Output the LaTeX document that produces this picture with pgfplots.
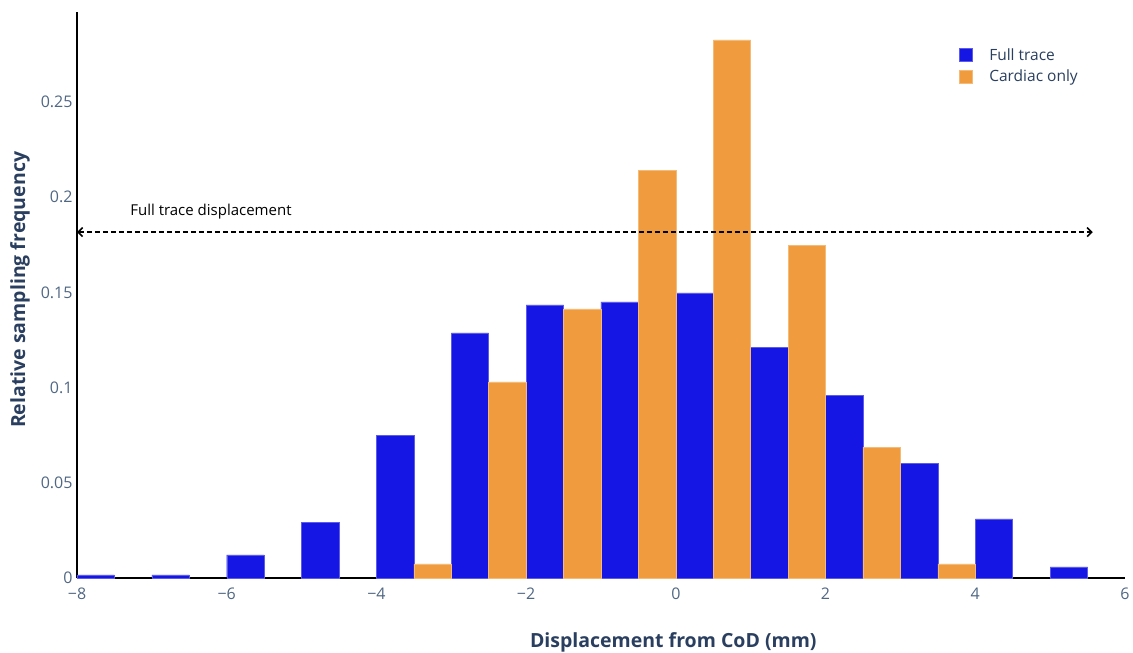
\documentclass[border=0pt]{standalone}
\usepackage{pgfplots}
\pgfplotsset{compat=1.18}
\usepackage{fontspec}
\setmainfont{Open Sans}
\usetikzlibrary{arrows.meta}
\definecolor{fullblue}{RGB}{22,22,228}
\definecolor{cardorange}{RGB}{240,156,62}
\definecolor{tickgrey}{RGB}{80,103,132}
\definecolor{titlenavy}{RGB}{42,63,95}
\begin{document}
\begin{tikzpicture}
\useasboundingbox (-77bp,-75bp) rectangle (1056bp,578bp);
\begin{axis}[
  at={(0,0)}, anchor=south west,
  width=1048bp, height=566bp, scale only axis,
  xmin=-8, xmax=6, ymin=0, ymax=0.2973,
  axis lines=left,
  axis line style={black, line width=1.4bp, -},
  major tick length=0pt,
  xtick={-8,-6,-4,-2,0,2,4,6},
  xticklabels={−8,−6,−4,−2,0,2,4,6},
  ytick={0,0.05,0.1,0.15,0.2,0.25},
  yticklabels={0,0.05,0.1,0.15,0.2,0.25},
  ticklabel style={font=\fontsize{16bp}{18bp}\selectfont, text=tickgrey},
  xticklabel style={yshift=-6bp},
  yticklabel style={xshift=-1bp},
  xlabel={\textbf{Displacement from CoD (mm)}},
  ylabel={\textbf{Relative sampling frequency}},
  label style={font=\fontsize{19.5bp}{22bp}\selectfont, text=titlenavy},
  xlabel style={at={(axis description cs:0.569,0)}, anchor=center, yshift=-64bp},
  ylabel style={at={(axis description cs:-0.0544,0.509)}, anchor=center},
  bar shift=0pt, bar width=0.5,
  legend style={draw=none, fill=none, at={(axis description cs:0.8385,0.943)}, anchor=north west,
    font=\fontsize{15.5bp}{18bp}\selectfont, text=titlenavy, row sep=4bp, column sep=11bp,
    nodes={inner xsep=6bp}},
  legend cell align=left,
  legend image code/.code={\fill[#1] (0bp,-6.5bp) rectangle (13bp,6.5bp);},
  clip=false,
]
\addplot[ybar, fill=fullblue, draw=fullblue!70!white, line width=0.4bp] coordinates {
(-7.75,0.0016) (-6.75,0.0016) (-5.75,0.0121) (-4.75,0.0294) (-3.75,0.0751)
(-2.75,0.1287) (-1.75,0.1434) (-0.75,0.1450) (0.25,0.1497) (1.25,0.1213)
(2.25,0.0961) (3.25,0.0604) (4.25,0.0310) (5.25,0.0058)};
\addlegendentry{Full trace}
\addplot[ybar, fill=cardorange, draw=cardorange!70!white, line width=0.4bp] coordinates {
(-3.25,0.0074) (-2.25,0.1030) (-1.25,0.1413) (-0.25,0.2143) (0.75,0.2826)
(1.75,0.1749) (2.75,0.0688) (3.75,0.0074)};
\addlegendentry{Cardiac only}
\draw[black, line width=1.6bp, dash pattern=on 5bp off 3bp,
  {Straight Barb[length=4.5bp,width=9bp]}-{Straight Barb[length=4.5bp,width=9bp]}]
  (axis cs:-8,0.1817) -- (axis cs:5.57,0.1817);
\node[anchor=west, font=\fontsize{15bp}{17bp}\selectfont, inner sep=0pt] at (axis cs:-7.29,0.1925) {Full trace displacement};
\end{axis}
\end{tikzpicture}
\end{document}
